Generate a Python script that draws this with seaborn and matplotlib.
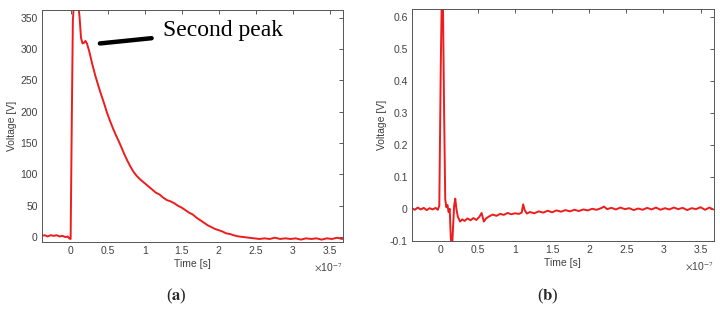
import numpy as np
import pandas as pd
import matplotlib
matplotlib.use('Agg')
import matplotlib.pyplot as plt
import seaborn as sns

sns.set_style('white')
plt.rcParams['font.family'] = ['Liberation Sans', 'DejaVu Sans']
plt.rcParams['axes.unicode_minus'] = False
plt.rcParams['mathtext.fontset'] = 'stix'

# Painel (a): tensao de saida (tempo em unidades de 1e-7 s)
time_a = [-0.39, -0.35, -0.31, -0.27, -0.23, -0.19, -0.15, -0.11, -0.07, -0.04, -0.02, 0.0,
          0.015, 0.03, 0.045, 0.06, 0.08, 0.1, 0.12, 0.14, 0.16, 0.18, 0.2, 0.22, 0.25, 0.29,
          0.33, 0.37, 0.41, 0.45, 0.49, 0.53, 0.57, 0.61, 0.65, 0.69, 0.73, 0.77, 0.81, 0.85,
          0.89, 0.93, 0.97, 1.01, 1.05, 1.1, 1.15, 1.2, 1.25, 1.3, 1.35, 1.4, 1.45, 1.5, 1.55,
          1.6, 1.65, 1.7, 1.75, 1.8, 1.85, 1.9, 1.95, 2.0, 2.05, 2.1, 2.15, 2.2, 2.27, 2.34,
          2.41, 2.48, 2.55, 2.62, 2.69, 2.76, 2.83, 2.9, 2.97, 3.04, 3.11, 3.18, 3.25, 3.32,
          3.39, 3.46, 3.53, 3.6, 3.67]
volt_a = [2, 3, 1, 3, 2, 3, 1, 2, 0, 1, -2, -3,
          180, 345, 375, 380, 380, 375, 352, 318, 309, 310, 313, 309, 297, 277,
          259, 243, 228, 214, 199, 186, 174, 163, 153, 142, 131, 121, 112, 104,
          98, 93, 89, 85, 81, 76, 71, 68, 63, 59, 57, 54, 50, 47, 43,
          39, 36, 31, 27, 23, 19, 16, 13, 11, 9, 6, 5, 3, 1, 0,
          -1, -2, -3, -2, -3, -1, -3, -2, -3, -2, -4, -2, -3, -2,
          -4, -2, -3, -1, -3]

# Painel (b): tensao medida
time_b = [-0.39, -0.35, -0.31, -0.27, -0.23, -0.19, -0.15, -0.11, -0.07, -0.04, -0.02, 0.0,
          0.022, 0.045, 0.06, 0.075, 0.09, 0.105, 0.12, 0.135, 0.15, 0.165, 0.18, 0.195, 0.21,
          0.23, 0.26, 0.29, 0.32, 0.36, 0.4, 0.44, 0.48, 0.52, 0.55, 0.58, 0.61, 0.65, 0.7,
          0.75, 0.8, 0.85, 0.9, 0.95, 1.0, 1.05, 1.09, 1.11, 1.13, 1.16, 1.2, 1.26, 1.32, 1.38,
          1.44, 1.5, 1.56, 1.62, 1.68, 1.74, 1.8, 1.86, 1.92, 1.98, 2.04, 2.1, 2.16, 2.2, 2.24,
          2.3, 2.36, 2.42, 2.48, 2.54, 2.6, 2.66, 2.72, 2.78, 2.84, 2.9, 2.96, 3.02, 3.08, 3.14,
          3.2, 3.26, 3.32, 3.38, 3.44, 3.5, 3.56, 3.62, 3.67]
volt_b = [0.002, -0.003, 0.004, -0.002, 0.003, -0.004, 0.002, -0.002, 0.003, -0.003, 0.01, 0.45,
          0.8, 0.3, 0.03, 0.005, 0.012, -0.01, 0.0, -0.09, -0.13, -0.06, 0.01, 0.032, 0.0,
          -0.025, -0.04, -0.033, -0.038, -0.03, -0.036, -0.029, -0.035, -0.025, -0.013, -0.04, -0.03, -0.024, -0.018,
          -0.022, -0.016, -0.019, -0.013, -0.017, -0.014, -0.016, -0.012, 0.014, -0.004, -0.015, -0.01, -0.014, -0.008, -0.012,
          -0.006, -0.011, -0.005, -0.009, -0.004, -0.008, -0.003, -0.007, -0.002, -0.005, 0.0, -0.003, 0.002, 0.007, -0.001,
          0.003, -0.002, 0.004, -0.001, 0.002, -0.004, 0.001, -0.003, 0.003, -0.002, 0.004, -0.003, 0.002, -0.002, 0.004,
          -0.001, 0.003, -0.004, 0.002, -0.001, 0.005, -0.003, 0.004, -0.002]

xticks = [0, 0.5, 1, 1.5, 2, 2.5, 3, 3.5]
yticks_a = [0, 50, 100, 150, 200, 250, 300, 350]
yticks_b = [-0.1, 0, 0.1, 0.2, 0.3, 0.4, 0.5, 0.6]

dfA = pd.DataFrame({'t': time_a, 'v': volt_a})
dfB = pd.DataFrame({'t': time_b, 'v': volt_b})

red = '#ee1c1c'
gray = '#404040'

fig = plt.figure(figsize=(7.2, 3.1), dpi=100)
axA = fig.add_axes([0.058, 0.219, 0.418, 0.748])
axB = fig.add_axes([0.572, 0.2235, 0.419, 0.746])


def estilo(ax, yticks, ylim):
    ax.set_xlim(-0.39, 3.675)
    ax.set_ylim(*ylim)
    ax.set_xticks(xticks)
    ax.set_xticklabels(['%g' % t for t in xticks])
    ax.set_yticks(yticks)
    ax.set_yticklabels(['%g' % t for t in yticks])
    ax.tick_params(direction='in', top=True, right=True, length=3, width=0.6,
                   colors=gray, labelsize=7.5, pad=3)
    for s in ax.spines.values():
        s.set_color('#555555')
        s.set_linewidth(0.7)
    ax.set_xlabel('Time [s]', fontsize=7.5, color=gray, labelpad=2)
    ax.set_ylabel('Voltage [V]', fontsize=7.5, color=gray, labelpad=2)
    ax.text(1.0, -0.085, r'$\times$10$^{-7}$', transform=ax.transAxes, ha='right', va='top',
            fontsize=7.5, color=gray)


sns.lineplot(data=dfA, x='t', y='v', ax=axA, color=red, linewidth=1.4, estimator=None)
estilo(axA, yticks_a, (-8, 362))

sns.lineplot(data=dfB, x='t', y='v', ax=axB, color=red, linewidth=1.4, estimator=None)
estilo(axB, yticks_b, (-0.1, 0.625))

# anotacao do segundo pico
axA.annotate('Second peak', xy=(0.395, 309), xytext=(1.25, 329), fontsize=17,
             family='Liberation Serif', color='black', ha='left', va='center',
             arrowprops=dict(arrowstyle='-', lw=3.2, color='black', shrinkA=6, shrinkB=0,
                             capstyle='round'))

fig.text(176 / 720, 1 - 296 / 310, r'($\mathbf{a}$)', ha='center', va='center', fontsize=12,
         family='Liberation Serif')
fig.text(548 / 720, 1 - 296 / 310, r'($\mathbf{b}$)', ha='center', va='center', fontsize=12,
         family='Liberation Serif')

plt.savefig('out.png', dpi=100)
